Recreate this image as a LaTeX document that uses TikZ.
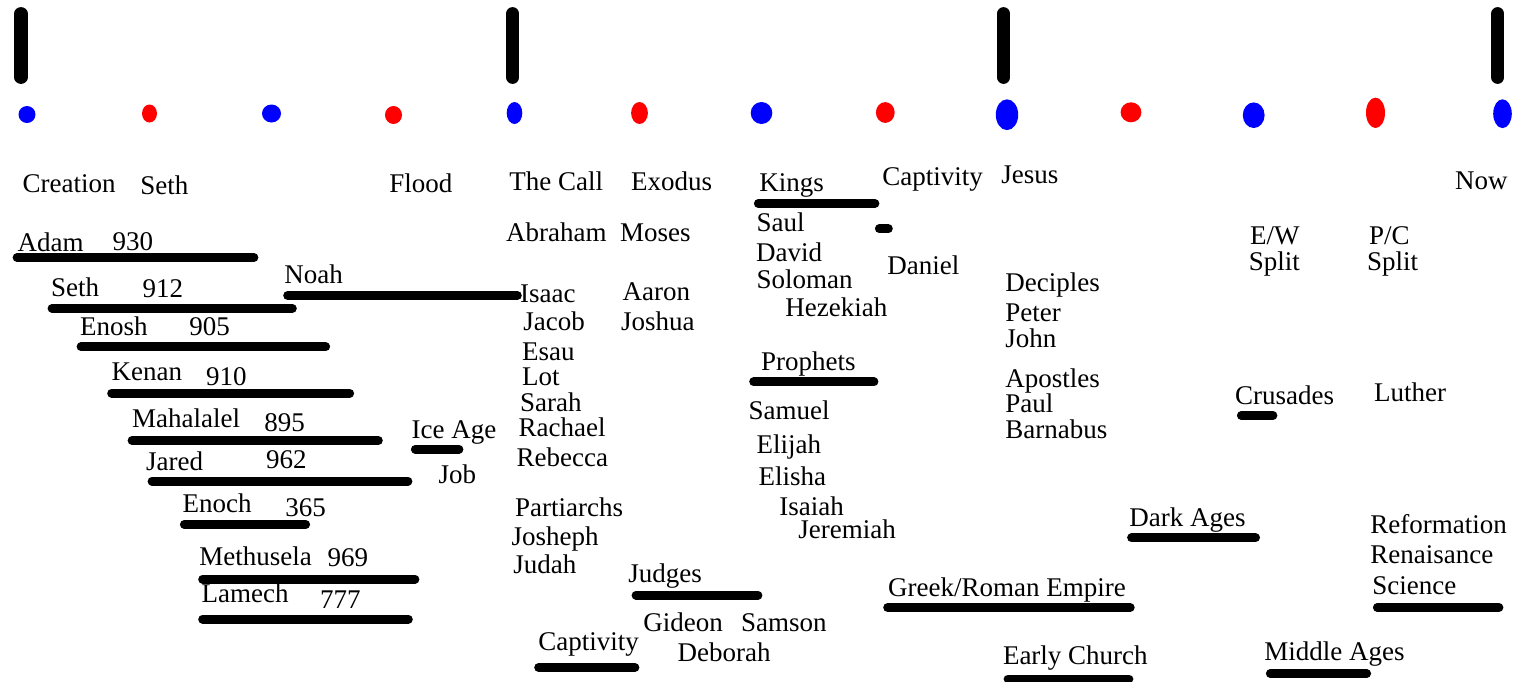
\documentclass[tikz,border=0pt]{standalone}
\usepackage{fontspec}
\setmainfont{Liberation Serif}
\begin{document}
\begin{tikzpicture}[x=0.5pt,y=-0.5pt,line cap=round,
	every node/.style={anchor=base west,inner sep=0pt,xshift=-0.5pt,font=\fontsize{13.5}{16}\selectfont},
	bar/.style={line width=4.4pt},
	era/.style={line width=6.6pt}]
	\useasboundingbox (0,0) rectangle (1517,681);
	% era marks and dots
	\foreach \x in {21,512.7,1003.6,1497.8}
	\draw[era] (\x,13.7)--(\x,77.3);
	\foreach \x/\y/\rx/\ry/\c in {27/114.5/4.25/4.25/blue,149.5/113.5/3.75/4.5/red,271.5/113.5/4.75/4.5/blue,393.5/115/4.25/4.5/red,
		514.5/113/3.9/5.5/blue,639.5/113/4.2/5.5/red,761.5/113/5.4/5.5/blue,885.3/112.5/4.7/5.2/red,
		1007/114.7/5.6/7.7/blue,1131/112.3/5.2/5/red,1253.7/115.2/5.45/6.4/blue,1375.5/112.8/4.75/7.6/red,1502.5/113.7/4.65/7.2/blue}
	\fill[\c] (\x,\y) ellipse [x radius=\rx pt, y radius=\ry pt];
	% events
	\foreach \n/\x/\y/\t in {creation/23.3/192.3/Creation,sethbirth/141/194/Seth,flood/390/192.3/Flood,
		call/510/190/The Call,exodus/631.7/190/Exodus,kings/760/191/Kings,captivity/883/185/Captivity,
		jesus/1002/183.3/Jesus,now/1455.6/189.3/Now}
	\node (\n) at (\x,\y) {\t};
	% patriarchs before the flood
	\foreach \n/\x/\y/\t/\ax/\ay/\age in {adam/18.3/251.7/Adam/113.3/250.3/930,seth/51.7/296.7/Seth/143.3/297.3/912,
		enosh/80.7/335/Enosh/190/335/905,kenan/112.3/380.7/Kenan/206.7/385.7/910,
		mahalalel/132.7/427.3/Mahalalel/265/431/895,jared/146.7/470.7/Jared/266.7/468.3/962,
		enoch/183.3/512.7/Enoch/286/516/365,methusela/200/565/Methusela/328.3/566/969,
		lamech/202.3/602.7/Lamech/320.7/608.3/777}
	\node (\n) at (\x,\y) {\t} node (\n age) at (\ax,\ay) {\age};
	\node (noah) at (285,283.3) {Noah};
	\node (iceage) at (412.3,438.3) {Ice Age};
	\node (job) at (439.3,483.3) {Job};
	% names
	\foreach \n/\x/\y/\t in {abraham/506.7/241.7/Abraham,moses/620.7/241.7/Moses,isaac/520.7/302.7/Isaac,
		aaron/623.3/300.7/Aaron,jacob/524/330/Jacob,joshua/621.7/330/Joshua,esau/522.7/360/Esau,lot/522.7/385/Lot,
		sarah/520.7/411.7/Sarah,rachael/519.3/436.7/Rachael,rebecca/517.3/466/Rebecca,partiarchs/515.7/516/Partiarchs,
		josheph/512.3/545/Josheph,judah/514/573.3/Judah,judges/629/582.7/Judges,gideon/644/631/Gideon,
		samson/741.7/631/Samson,captivitylow/539/650/Captivity,deborah/678.3/661.7/Deborah,
		saul/757.3/231/Saul,david/756.7/261/David,soloman/757.3/288.3/Soloman,hezekiah/786/316.7/Hezekiah,
		prophets/761.7/370/Prophets,samuel/749.3/419.3/Samuel,elijah/757.3/453/Elijah,elisha/759.3/485/Elisha,
		isaiah/780/515/Isaiah,jeremiah/799/538.3/Jeremiah,daniel/888/274.5/Daniel}
	\node (\n) at (\x,\y) {\t};
	\foreach \n/\x/\y/\t in {earlychurch/1003.6/664/Early Church,deciples/1006/291.7/Deciples,peter/1006/321.7/Peter,
		john/1006/347.3/John,apostles/1006/387.3/Apostles,paul/1006/412.7/Paul,barnabus/1006/438.8/Barnabus,
		darkages/1130/526/Dark Ages,ewsplit/1249.5/270.7/Split,pcsplit/1367.7/270.7/Split,
		crusades/1235.8/404/Crusades,luther/1374.8/401.7/Luther,middleages/1264.9/660/Middle Ages,
		reformation/1371/533.3/Reformation,renaisance/1371/563.3/Renaisance,science/1373/594/Science}
	\node (\n) at (\x,\y) {\t};
	\node (greek) at (888.7,596.7) {Greek/Roman Empire};
	\node (ew) at (1250.8,244) {E/W};
	\node (pc) at (1369.8,244) {P/C};
	% spans
	\foreach \a/\b/\y in {17/254/257.5,52/292.4/308.3,287.6/517.4/295.5,81/325.7/346.8,111.6/349.7/393.2,
		132/378.4/440.5,415.3/459/449.2,152/408/481.2,184.3/305.7/524.5,202.6/415/579.2,202.6/408.4/619.2,
		758.3/875/203.5,879.3/888.4/228.8,753.6/874/381.8,636/758/595.2,538.6/635/667.5,
		887.6/1130.3/607.5,1008/1129/679,1131.5/1255.6/537.8,1241.3/1273/415.5,1270.3/1366.7/673.5,1377.3/1499/607.5}
	\draw[bar] (\a,\y)--(\b,\y);
\end{tikzpicture}
\end{document}
